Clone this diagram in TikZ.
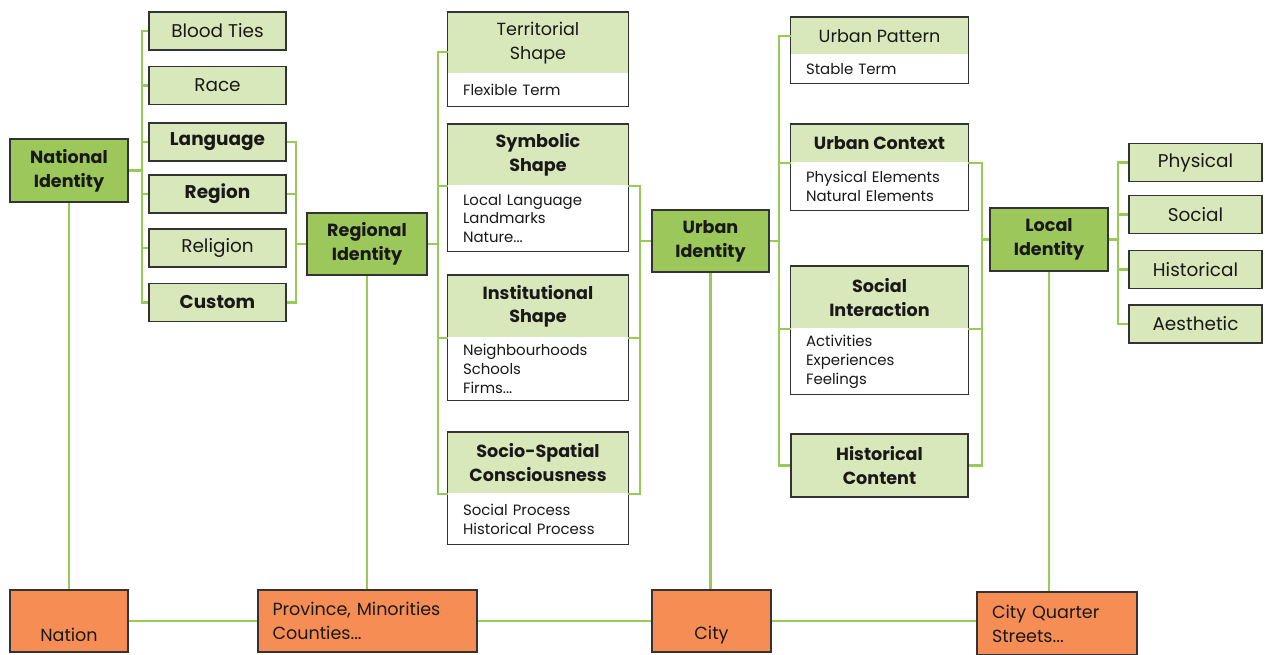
\documentclass[tikz,border=0pt]{standalone}
\usepackage{fontspec}
\setmainfont{Poppins}
\usetikzlibrary{positioning}
\definecolor{leafgreen}{HTML}{D9E8BA}
\definecolor{idgreen}{HTML}{9CC75B}
\definecolor{wiregreen}{HTML}{96CB55}
\definecolor{scaleorange}{HTML}{F68D55}
\definecolor{inkgray}{HTML}{333333}

\begin{document}
\begin{tikzpicture}[x=0.02cm,y=-0.02cm,node distance=0pt,text=black!90]
  \tikzstyle{box}=[draw=inkgray,line width=0.9pt,inner sep=2pt,align=center]
  \tikzstyle{item}=[box,fill=leafgreen,minimum width=2.74cm,minimum height=0.76cm,font=\fontsize{10.5}{13}\selectfont]
  \tikzstyle{keyitem}=[item,font=\fontsize{10.5}{13}\selectfont\bfseries]
  \tikzstyle{identity}=[box,fill=idgreen,minimum width=2.36cm,minimum height=1.26cm,font=\fontsize{10}{13.6}\selectfont\bfseries]
  \tikzstyle{head}=[fill=leafgreen,inner sep=0pt,align=center,font=\fontsize{10}{13.6}\selectfont]
  \tikzstyle{keyhead}=[head,font=\fontsize{10}{13.6}\selectfont\bfseries]
  \tikzstyle{body}=[fill=white,inner ysep=0pt,inner xsep=0.3cm,align=left,font=\fontsize{8.5}{10.8}\selectfont]
  \tikzstyle{frame}=[draw=inkgray,line width=0.9pt]
  \tikzstyle{level}=[box,fill=scaleorange,minimum height=1.24cm,font=\fontsize{10}{13.6}\selectfont]
  \tikzstyle{link}=[draw=wiregreen,line width=1.2pt]

  \useasboundingbox (0,0) rectangle (1265,655);

  % national level
  \node[identity] (natid) at (69,170.5) {National\\Identity};
  \node[item]    (blood)  at (217.5,31)   {Blood Ties};
  \node[item]    (race)   at (217.5,85.5) {Race};
  \node[keyitem] (lang)   at (217.5,142)  {Language};
  \node[keyitem] (region) at (217.5,194)  {Region};
  \node[item]    (relig)  at (217.5,248)  {Religion};
  \node[keyitem] (custom) at (217.5,302.5) {Custom};

  % regional level
  \node[identity,minimum width=2.4cm,minimum height=1.24cm] (regid) at (367,244) {Regional\\Identity};
  \node[head,minimum width=3.6cm,minimum height=1.22cm,anchor=north] (terrh) at (538,12) {Territorial\\Shape};
  \node[body,text width=3cm,minimum height=0.64cm,below=of terrh] (terrb) {Flexible Term};
  \node[keyhead,minimum width=3.6cm,minimum height=1.22cm,anchor=north] (symbh) at (538,124) {Symbolic\\Shape};
  \node[body,text width=3cm,minimum height=1.3cm,below=of symbh] (symbb) {Local Language\\Landmarks\\Nature...};
  \node[keyhead,minimum width=3.6cm,minimum height=1.24cm,anchor=north] (insth) at (538,275) {Institutional\\Shape};
  \node[body,text width=3cm,minimum height=1.24cm,below=of insth] (instb) {Neighbourhoods\\Schools\\Firms...};
  \node[keyhead,minimum width=3.6cm,minimum height=1.22cm,anchor=north] (socioh) at (538,432) {Socio-Spatial\\Consciousness};
  \node[body,text width=3cm,minimum height=1cm,below=of socioh] (sociob) {Social Process\\Historical Process};
  \draw[frame] (terrh.north west) rectangle (terrb.south east);
  \draw[frame] (symbh.north west) rectangle (symbb.south east);
  \draw[frame] (insth.north west) rectangle (instb.south east);
  \draw[frame] (socioh.north west) rectangle (sociob.south east);

  % urban level
  \node[identity,minimum width=2.34cm,minimum height=1.24cm] (urbid) at (710.5,241) {Urban\\Identity};
  \node[head,minimum width=3.54cm,minimum height=0.74cm,anchor=north] (patth) at (879.5,17) {Urban Pattern};
  \node[body,text width=2.94cm,minimum height=0.56cm,below=of patth] (pattb) {Stable Term};
  \node[keyhead,minimum width=3.54cm,minimum height=0.76cm,anchor=north] (ctxh) at (879.5,124) {Urban Context};
  \node[body,text width=2.94cm,minimum height=0.94cm,below=of ctxh] (ctxb) {Physical Elements\\Natural Elements};
  \node[keyhead,minimum width=3.54cm,minimum height=1.24cm,anchor=north] (soch) at (879.5,266) {Social\\Interaction};
  \node[body,text width=2.94cm,minimum height=1.3cm,below=of soch] (socb) {Activities\\Experiences\\Feelings};
  \node[keyitem,minimum width=3.54cm,minimum height=1.26cm,font=\fontsize{10}{13.6}\selectfont\bfseries] (histc) at (879.5,465.5) {Historical\\Content};
  \draw[frame] (patth.north west) rectangle (pattb.south east);
  \draw[frame] (ctxh.north west) rectangle (ctxb.south east);
  \draw[frame] (soch.north west) rectangle (socb.south east);

  % local level
  \node[identity] (locid) at (1049,239.5) {Local\\Identity};
  \node[item,minimum width=2.66cm] (phys) at (1195.5,162.5) {Physical};
  \node[item,minimum width=2.66cm] (socl) at (1195.5,214.5) {Social};
  \node[item,minimum width=2.66cm] (hist) at (1195.5,269.5) {Historical};
  \node[item,minimum width=2.66cm] (aest) at (1195.5,324)   {Aesthetic};

  % spatial scale
  \node[level,minimum width=2.36cm] (nation) at (69,621) {\strut\\Nation};
  \node[level,minimum width=4.38cm,text width=3.8cm,align=left] (prov) at (367.5,621) {Province, Minorities\\Counties...};
  \node[level,minimum width=2.38cm] (city) at (711.5,621) {\strut\\City};
  \node[level,minimum width=3.2cm,minimum height=1.26cm,text width=2.6cm,align=left] (quarter) at (1057,623.5) {City Quarter\\Streets...};

  \coordinate (busA) at (142,0);
  \coordinate (busB) at (296,0);
  \coordinate (busC) at (438,0);
  \coordinate (busD) at (640,0);
  \coordinate (busE) at (779,0);
  \coordinate (busF) at (982,0);
  \coordinate (busG) at (1118,0);

  \draw[link] (blood.west) -- (blood.west -| busA) -- (custom.west -| busA) -- (custom.west);
  \foreach \n in {race,lang,region,relig}
    \draw[link] (\n.west) -- (\n.west -| busA);
  \draw[link] (natid.east) -- (natid.east -| busA);

  \draw[link] (lang.east) -- (lang.east -| busB) -- (custom.east -| busB) -- (custom.east);
  \draw[link] (region.east) -- (region.east -| busB);
  \draw[link] (regid.west) -- (regid.west -| busB);

  \draw[link] ([yshift=-0.19cm]terrh.west) -- ([yshift=-0.19cm]terrh.west -| busC) -- (socioh.south west -| busC) -- (socioh.south west);
  \foreach \n in {symbh,insth}
    \draw[link] (\n.south west) -- (\n.south west -| busC);
  \draw[link] (regid.east) -- (regid.east -| busC);

  \draw[link] (symbh.south east) -- (symbh.south east -| busD) -- (socioh.south east -| busD) -- (socioh.south east);
  \draw[link] (insth.south east) -- (insth.south east -| busD);
  \draw[link] (urbid.west) -- (urbid.west -| busD);

  \draw[link] (patth.west) -- (patth.west -| busE) -- (histc.west -| busE) -- (histc.west);
  \foreach \n in {ctxh,soch}
    \draw[link] (\n.south west) -- (\n.south west -| busE);
  \draw[link] (urbid.east) -- (urbid.east -| busE);

  \draw[link] (ctxh.south east) -- (ctxh.south east -| busF) -- (histc.east -| busF) -- (histc.east);
  \draw[link] (soch.south east) -- (soch.south east -| busF);
  \draw[link] (locid.west) -- (locid.west -| busF);

  \draw[link] (phys.west) -- (phys.west -| busG) -- (aest.west -| busG) -- (aest.west);
  \foreach \n in {socl,hist}
    \draw[link] (\n.west) -- (\n.west -| busG);
  \draw[link] (locid.east) -- (locid.east -| busG);

  \draw[link] (natid) -- (nation);
  \draw[link] (regid.south) -- (regid.south |- prov.north);
  \draw[link] (urbid.south) -- (urbid.south |- city.north);
  \draw[link] (locid.south) -- (locid.south |- quarter.north);

  \draw[link] (nation.east) -- (prov.west);
  \draw[link] (prov.east) -- (city.west);
  \draw[link] (city.east) -- (city.east -| quarter.west);
\end{tikzpicture}
\end{document}
